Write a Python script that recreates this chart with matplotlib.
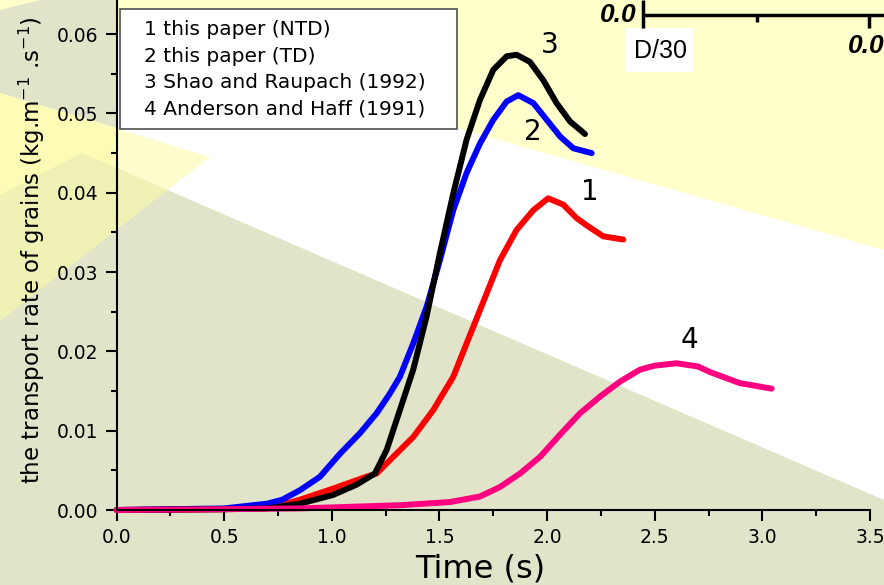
import matplotlib
matplotlib.use("Agg")
import matplotlib.pyplot as plt
from matplotlib.lines import Line2D
from matplotlib.patches import Polygon, Rectangle
from matplotlib.ticker import MultipleLocator

# curve 1: this paper (NTD)
t_ntd = [0.0, 0.5, 0.7, 0.8, 0.852, 1.006, 1.161, 1.208, 1.285, 1.378, 1.471,
         1.564, 1.657, 1.719, 1.781, 1.858, 1.936, 2.005, 2.075, 2.137, 2.183,
         2.261, 2.354]
q_ntd = [0.0, 0.0001, 0.0004, 0.0009, 0.0013, 0.0027, 0.0042, 0.0046, 0.0067,
         0.0092, 0.0126, 0.0168, 0.0231, 0.0273, 0.0315, 0.0353, 0.0378, 0.0393,
         0.0385, 0.0368, 0.0359, 0.0345, 0.0341]

# curve 2: this paper (TD)
t_td = [0.0, 0.5, 0.7, 0.77, 0.852, 0.945, 1.038, 1.131, 1.208, 1.270, 1.316,
        1.378, 1.440, 1.502, 1.564, 1.626, 1.688, 1.750, 1.812, 1.866, 1.936,
        1.998, 2.060, 2.122, 2.207]
q_td = [0.0, 0.0002, 0.0008, 0.0013, 0.0025, 0.0042, 0.0071, 0.0097, 0.0122,
        0.0147, 0.0168, 0.0210, 0.0256, 0.0315, 0.0378, 0.0425, 0.0462, 0.0492,
        0.0515, 0.0523, 0.0513, 0.0492, 0.0471, 0.0456, 0.0450]

# curve 3: Shao and Raupach (1992)
t_sr = [0.0, 0.5, 0.7, 0.852, 1.006, 1.115, 1.200, 1.255, 1.316, 1.378, 1.440,
        1.502, 1.564, 1.626, 1.688, 1.750, 1.812, 1.858, 1.920, 1.982, 2.044,
        2.106, 2.176]
q_sr = [0.0, 0.0001, 0.0002, 0.0008, 0.0019, 0.0032, 0.0046, 0.0076, 0.0126,
        0.0177, 0.0244, 0.0324, 0.0399, 0.0467, 0.0517, 0.0555, 0.0572, 0.0574,
        0.0565, 0.0542, 0.0513, 0.0490, 0.0474]

# curve 4: Anderson and Haff (1991)
t_ah = [0.0, 0.5, 0.852, 1.316, 1.548, 1.688, 1.781, 1.874, 1.967, 2.060,
        2.153, 2.246, 2.339, 2.432, 2.50, 2.601, 2.70, 2.756, 2.895, 3.043]
q_ah = [0.0, 0.0001, 0.0002, 0.0006, 0.0010, 0.0017, 0.0029, 0.0046, 0.0067,
        0.0095, 0.0122, 0.0143, 0.0162, 0.0177, 0.0182, 0.0185, 0.0181, 0.0174,
        0.0160, 0.0153]

LABELS = ["1 this paper (NTD)", "2 this paper (TD)",
          "3 Shao and Raupach (1992)", "4 Anderson and Haff (1991)"]
CURVE_TAGS = ["1", "2", "3", "4"]
TAG_POS = [(2.20, 0.0401), (1.934, 0.0477), (2.013, 0.0586), (2.663, 0.0214)]
COLORS = ["#FF0000", "#0000FF", "#000000", "#FF0080"]

W, H = 884, 585
YELLOW = "#FFFFCC"
OLIVE = "#E1E4C9"

# slide background shapes, in pixel coords (y down)
BACKGROUND = [
    ([(117, 31), (884, 250), (884, 585), (117, 585)], "white", 1.0),
    ([(82, 153), (884, 500), (884, 585), (0, 585), (0, 195)], OLIVE, 1.0),
    ([(0, 10), (40, 0), (117, 0), (117, 128), (0, 93)], OLIVE, 1.0),
    ([(210, 157), (0, 93), (0, 321)], "#FBFBA6", 0.57),
]

fig = plt.figure(figsize=(W / 100, H / 100), dpi=100, facecolor=YELLOW)
bg = fig.add_axes([0, 0, 1, 1], zorder=0)
bg.set_xlim(0, W)
bg.set_ylim(H, 0)
bg.axis("off")
for pts, fc, alpha in BACKGROUND:
    bg.add_patch(Polygon(pts, closed=True, fc=fc, ec="none", alpha=alpha))

# bits of a neighbouring figure that leak into the top right corner
bg.text(600, 15, "0.0", fontsize=19, fontweight="bold", fontstyle="italic",
        family="Liberation Sans", ha="left", va="center")
bg.plot([643, 884], [15, 15], color="black", lw=2.5, solid_capstyle="butt")
bg.plot([643, 643], [0, 28], color="black", lw=2.5, solid_capstyle="butt")
bg.plot([757, 757], [15, 22], color="black", lw=2.5, solid_capstyle="butt")
bg.plot([869, 869], [15, 28], color="black", lw=2.5, solid_capstyle="butt")
bg.add_patch(Rectangle((626, 28), 67, 44, fc="white", ec="none"))
bg.text(660, 51, "D/30", fontsize=18, family="Liberation Sans",
        ha="center", va="center")
bg.text(848, 46, "0.0", fontsize=19, fontweight="bold", fontstyle="italic",
        family="Liberation Sans", ha="left", va="center")

ax = fig.add_axes([116.6 / W, 1 - 510 / H, (870 - 116.6) / W, 510 / H], zorder=1)
ax.patch.set_visible(False)

series = [(t_ntd, q_ntd), (t_td, q_td), (t_sr, q_sr), (t_ah, q_ah)]
for (t, q), c in zip(series, COLORS):
    ax.plot(t, q, color=c, lw=4.3, solid_capstyle="round",
            solid_joinstyle="round", clip_on=False)

for tag, (x, y) in zip(CURVE_TAGS, TAG_POS):
    ax.text(x, y, tag, fontsize=20, ha="center", va="center")

ax.set_xlim(0, 3.5)
ax.set_ylim(0, 0.0643)
ax.xaxis.set_major_locator(MultipleLocator(0.5))
ax.xaxis.set_minor_locator(MultipleLocator(0.25))
ax.yaxis.set_major_locator(MultipleLocator(0.01))
ax.yaxis.set_minor_locator(MultipleLocator(0.005))
ax.xaxis.set_major_formatter(lambda v, p: f"{v:.1f}")
ax.yaxis.set_major_formatter(lambda v, p: f"{v:.2f}")
for s in ("top", "right"):
    ax.spines[s].set_visible(False)
for s in ("left", "bottom"):
    ax.spines[s].set_linewidth(1.5)
ax.tick_params(which="major", direction="out", length=8, width=1.5,
               labelsize=13.5, pad=5)
ax.tick_params(which="minor", direction="out", length=4.5, width=1.5)

ax.set_xlabel("Time (s)", fontsize=23)
ax.xaxis.set_label_coords(0.482, -0.086)
ax.set_ylabel(r"the transport rate of grains (kg.m$^{\mathregular{-1}}$ .s$^{\mathregular{-1}}$)",
              fontsize=16.5)
ax.yaxis.set_label_coords(-0.092, 0.51)

handles = [Line2D([], [], ls="none") for _ in LABELS]
leg = ax.legend(handles, LABELS, loc="upper left",
                bbox_to_anchor=(0.0039, 0.7477, 0.4474, 0.2341), mode="expand",
                borderaxespad=0, fontsize=14.5, handlelength=0,
                handletextpad=0.65, borderpad=0.55, labelspacing=0.36,
                fancybox=False, framealpha=1)
leg.get_frame().set_edgecolor("#505050")
leg.get_frame().set_linewidth(1.2)

fig.savefig("out.png", dpi=100, facecolor=YELLOW)
